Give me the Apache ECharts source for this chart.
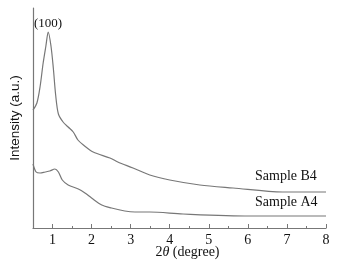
<!DOCTYPE html>
<html>
<head>
<meta charset="utf-8">
<script src="https://cdn.jsdelivr.net/npm/echarts@6/dist/echarts.min.js"></script>
<style>
  html, body { margin: 0; padding: 0; background: #fff; }
  #main { width: 351px; height: 263px; }
</style>
</head>
<body>
<div id="main"></div>
<script>
  // 2theta (degree), intensity in arbitrary units
  var b4Theta = [0.5, 0.6, 0.68, 0.76, 0.83, 0.89, 0.96, 1.02, 1.08, 1.15, 1.27, 1.4, 1.53, 1.65, 1.79, 2.04, 2.47, 2.67, 3.06, 3.49, 4.0, 4.77, 5.62, 6.89, 8.0];
  var b4Int = [118, 125, 141, 165, 182, 196, 182, 160, 133, 114, 106, 101, 96, 88, 83, 76, 70, 66, 60, 53, 48, 43, 40, 36, 36];
  var a4Theta = [0.5, 0.58, 0.68, 0.81, 0.93, 1.06, 1.15, 1.25, 1.4, 1.66, 1.83, 2.0, 2.26, 2.51, 2.85, 3.11, 3.49, 4.34, 6.05, 8.0];
  var a4Int = [64, 56, 55, 56, 57, 59, 56, 48, 43, 39, 35, 30, 23, 20, 17, 16, 16, 14, 12, 12];
  var xLabels = [1, 2, 3, 4, 5, 6, 7, 8];
  var halfTicks = [1, 1.5, 2, 2.5, 3, 3.5, 4, 4.5, 5, 5.5, 6, 6.5, 7, 7.5, 8];

  function pairs(xs, ys) {
    var out = [];
    for (var i = 0; i < xs.length; i++) {
      out.push([xs[i], ys[i]]);
    }
    return out;
  }

  var serif = 'Liberation Serif';
  var lineColor = '#777';
  var textColor = '#111';

  var myChart = echarts.init(document.getElementById('main'));
  var option = {
    backgroundColor: '#fff',
    animation: false,
    grid: { left: 33, right: 25, top: 8, bottom: 35, outerBoundsMode: 'none', containLabel: false },
    xAxis: [{
      type: 'value',
      min: 0.5,
      max: 8,
      interval: 0.5,
      splitLine: { show: false },
      axisLine: { lineStyle: { color: lineColor, width: 1.2 } },
      axisTick: { inside: true, length: 2, customValues: halfTicks, lineStyle: { color: lineColor } },
      axisLabel: { customValues: xLabels, color: textColor, fontFamily: serif, fontSize: 14, margin: 5 },
      name: '{n|2}{i|θ}{n| (degree)}',
      nameLocation: 'middle',
      nameGap: 17,
      nameMoveOverlap: false,
      nameTextStyle: {
        padding: [0, 0, 0, 16],
        rich: {
          n: { fontFamily: serif, fontSize: 14, color: textColor },
          i: { fontFamily: serif, fontSize: 14, fontStyle: 'italic', color: textColor }
        }
      }
    }, {
      type: 'value',
      min: 0.5,
      max: 8,
      interval: 0.5,
      position: 'bottom',
      splitLine: { show: false },
      axisLine: { show: false },
      axisTick: { inside: true, length: 4, customValues: xLabels, lineStyle: { color: lineColor } },
      axisLabel: { show: false }
    }],
    yAxis: {
      type: 'value',
      min: 0,
      max: 220,
      splitLine: { show: false },
      axisLine: { show: true, lineStyle: { color: lineColor, width: 1.2 } },
      axisTick: { show: false },
      axisLabel: { show: false },
      name: 'Intensity (a.u.)',
      nameLocation: 'middle',
      nameGap: 11,
      nameTextStyle: { fontFamily: 'Liberation Sans', fontSize: 13.5, color: textColor }
    },
    graphic: [
      { type: 'text', left: 34, top: 17, style: { text: '(100)', font: '13px "Liberation Serif"', fill: textColor } },
      { type: 'text', left: 255, top: 169, style: { text: 'Sample B4', font: '14px "Liberation Serif"', fill: textColor } },
      { type: 'text', left: 255, top: 195, style: { text: 'Sample A4', font: '14px "Liberation Serif"', fill: textColor } }
    ],
    series: [{
      name: 'Sample B4',
      type: 'line',
      smooth: 0.3,
      symbol: 'none',
      lineStyle: { color: lineColor, width: 1.2 },
      data: pairs(b4Theta, b4Int)
    }, {
      name: 'Sample A4',
      type: 'line',
      smooth: 0.3,
      symbol: 'none',
      lineStyle: { color: lineColor, width: 1.2 },
      data: pairs(a4Theta, a4Int)
    }]
  };
  myChart.setOption(option);
</script>
</body>
</html>
